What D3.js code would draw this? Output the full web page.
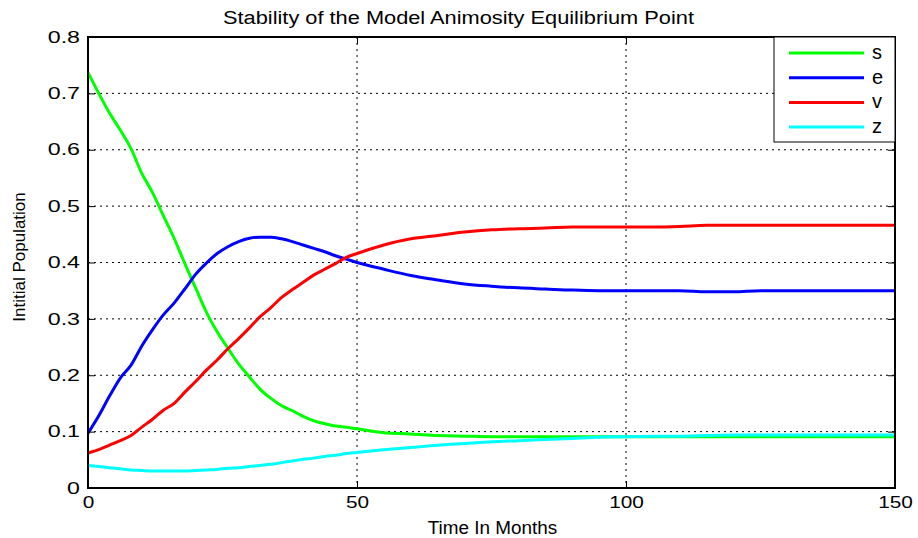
<!DOCTYPE html>
<html>
<head>
<meta charset="utf-8">
<script src="https://cdn.jsdelivr.net/npm/d3@7"></script>
<style>
  body { margin: 0; background: #fff; }
  svg { display: block; font-family: "Liberation Sans", Arial, sans-serif; }
</style>
</head>
<body>
<svg id="chart" width="918" height="538"></svg>
<script>
// months sampled from the figure
var months = [0, 2, 4, 6, 8, 10, 12, 14, 16, 18, 20, 22, 24, 26, 28, 30, 32, 34, 36, 38, 40,
  42, 44, 46, 48, 50, 55, 60, 65, 70, 75, 80, 85, 90, 95, 100, 105, 110, 115, 120,
  125, 130, 135, 140, 145, 150];

var sValues = [0.737, 0.700, 0.665, 0.635, 0.602, 0.558, 0.524, 0.483, 0.443, 0.398, 0.355,
  0.312, 0.277, 0.248, 0.220, 0.197, 0.175, 0.159, 0.146, 0.137, 0.127,
  0.119, 0.114, 0.110, 0.108, 0.105, 0.098, 0.096, 0.093, 0.092, 0.091, 0.091, 0.091, 0.091, 0.091, 0.091,
  0.091, 0.091, 0.091, 0.091, 0.091, 0.091, 0.091, 0.091, 0.091, 0.091];

var eValues = [0.097, 0.128, 0.163, 0.195, 0.218, 0.252, 0.281, 0.307, 0.328, 0.353, 0.379,
  0.399, 0.416, 0.428, 0.437, 0.443, 0.445, 0.445, 0.442, 0.437, 0.431,
  0.425, 0.419, 0.412, 0.406, 0.400, 0.388, 0.377, 0.369, 0.362, 0.358, 0.355, 0.353, 0.351, 0.350, 0.350,
  0.350, 0.350, 0.348, 0.348, 0.350, 0.350, 0.350, 0.350, 0.350, 0.350];

var vValues = [0.062, 0.068, 0.076, 0.084, 0.093, 0.108, 0.122, 0.138, 0.150, 0.170, 0.189,
  0.209, 0.227, 0.247, 0.265, 0.284, 0.304, 0.320, 0.338, 0.352, 0.365,
  0.378, 0.388, 0.398, 0.409, 0.416, 0.431, 0.442, 0.448, 0.454, 0.458, 0.460, 0.461, 0.463, 0.463, 0.463,
  0.463, 0.464, 0.466, 0.466, 0.466, 0.466, 0.466, 0.466, 0.466, 0.466];

var zValues = [0.040, 0.038, 0.036, 0.034, 0.032, 0.031, 0.030, 0.030, 0.030, 0.030, 0.031,
  0.032, 0.033, 0.035, 0.036, 0.038, 0.040, 0.042, 0.045, 0.048, 0.051,
  0.053, 0.056, 0.058, 0.061, 0.063, 0.068, 0.072, 0.076, 0.079, 0.082, 0.084, 0.086, 0.088, 0.090, 0.091,
  0.092, 0.092, 0.093, 0.094, 0.094, 0.094, 0.094, 0.094, 0.094, 0.094];

var seriesNames = ['s', 'e', 'v', 'z'];
var seriesColors = ['#00ff00', '#0000ff', '#ff0000', '#00ffff'];
var xTicks = [0, 50, 100, 150];
var yTicks = [0, 0.1, 0.2, 0.3, 0.4, 0.5, 0.6, 0.7, 0.8];

var svg = d3.select('#chart');
var margin = {left: 88, right: 23, top: 37, bottom: 50};
var width = 918 - margin.left - margin.right;
var height = 538 - margin.top - margin.bottom;

var x = d3.scaleLinear().domain([0, 150]).range([0, width]);
var y = d3.scaleLinear().domain([0, 0.8]).range([height, 0]);

// the original figure's lettering is wider than the installed fonts
function stretch(sel, k) {
  sel.each(function() {
    var w = this.getComputedTextLength();
    d3.select(this).attr('textLength', w * k).attr('lengthAdjust', 'spacingAndGlyphs');
  });
}

var g = svg.append('g').attr('transform', 'translate(' + margin.left + ',' + margin.top + ')');

// dotted grid
g.append('g').selectAll('line')
  .data(xTicks.slice(1, -1))
  .enter().append('line')
    .attr('x1', function(d) { return x(d); })
    .attr('x2', function(d) { return x(d); })
    .attr('y1', 0).attr('y2', height)
    .style('stroke', '#000').style('stroke-width', 1)
    .style('stroke-dasharray', '2,4');

g.append('g').selectAll('line')
  .data(yTicks.slice(1, -1))
  .enter().append('line')
    .attr('x1', 0).attr('x2', width)
    .attr('y1', function(d) { return y(d); })
    .attr('y2', function(d) { return y(d); })
    .style('stroke', '#000').style('stroke-width', 1)
    .style('stroke-dasharray', '2,4');

// curves
var allSeries = [sValues, eValues, vValues, zValues];
var line = d3.line()
  .x(function(d, i) { return x(months[i]); })
  .y(function(d) { return y(d); })
  .curve(d3.curveMonotoneX);

g.append('g').selectAll('path')
  .data(allSeries)
  .enter().append('path')
    .attr('d', line)
    .style('fill', 'none')
    .style('stroke', function(d, i) { return seriesColors[i]; })
    .style('stroke-width', 3)
    .style('stroke-linejoin', 'round');

// axes with inward ticks on all four sides
var tickLen = 7;
var xAxis = g.append('g').attr('transform', 'translate(0,' + height + ')')
  .call(d3.axisBottom(x).tickValues(xTicks).tickSizeInner(-tickLen).tickSizeOuter(0).tickPadding(9).tickFormat(d3.format('d')));
g.append('g')
  .call(d3.axisTop(x).tickValues(xTicks).tickSizeInner(-tickLen).tickSizeOuter(0).tickFormat(''));
var yAxis = g.append('g')
  .call(d3.axisLeft(y).tickValues(yTicks).tickSizeInner(-tickLen).tickSizeOuter(0).tickPadding(8)
    .tickFormat(function(d) { return d === 0 ? '0' : d3.format('.1f')(d); }));
g.append('g').attr('transform', 'translate(' + width + ',0)')
  .call(d3.axisRight(y).tickValues(yTicks).tickSizeInner(-tickLen).tickSizeOuter(0).tickFormat(''));

g.selectAll('.domain').remove();
g.selectAll('.tick line').style('stroke', '#000').style('stroke-width', 1);
g.selectAll('.tick text')
  .style('font-size', '16px')
  .style('fill', '#000')
  .style('font-family', '"Liberation Sans", Arial, sans-serif');
stretch(yAxis.selectAll('.tick text'), 1.45);
stretch(xAxis.selectAll('.tick text'), 1.3);

g.append('rect')
  .attr('width', width).attr('height', height)
  .style('fill', 'none').style('stroke', '#000').style('stroke-width', 2);

// legend
var legend = g.append('g').attr('transform', 'translate(' + (width - 121) + ',0)');
legend.append('rect')
  .attr('width', 121).attr('height', 105)
  .style('fill', '#fff').style('stroke', '#000').style('stroke-width', 1);
var item = legend.selectAll('g')
  .data(seriesNames)
  .enter().append('g')
    .attr('transform', function(d, i) { return 'translate(0,' + (16 + i * 24.7) + ')'; });
item.append('line')
  .attr('x1', 15).attr('x2', 90).attr('y1', 0).attr('y2', 0)
  .style('stroke', function(d, i) { return seriesColors[i]; })
  .style('stroke-width', 3);
item.append('text')
  .attr('x', 98).attr('y', 6)
  .style('font-size', '20px')
  .text(function(d) { return d; });

// titles
var title = svg.append('text')
  .attr('x', margin.left + width / 2 - 33).attr('y', 24)
  .attr('text-anchor', 'middle')
  .style('font-size', '18px')
  .text('Stability of the Model Animosity Equilibrium Point');
stretch(title, 1.21);

var xLabel = svg.append('text')
  .attr('x', margin.left + width / 2 + 1).attr('y', 534)
  .attr('text-anchor', 'middle')
  .style('font-size', '18px')
  .text('Time In Months');
stretch(xLabel, 1.05);

svg.append('text')
  .attr('transform', 'translate(25,257) rotate(-90)')
  .attr('text-anchor', 'middle')
  .style('font-size', '17px')
  .text('Intitial Population');
</script>
</body>
</html>
